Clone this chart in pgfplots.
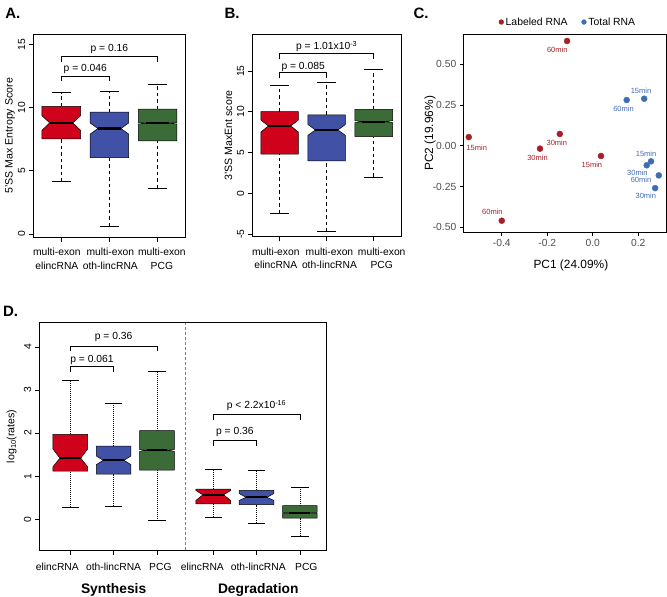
\documentclass[border=0pt]{standalone}
\usepackage{fontspec}
\setmainfont{Liberation Sans}
\usepackage{pgfplots}
\pgfplotsset{compat=1.18}

\definecolor{bred}{HTML}{D0021B}
\definecolor{bblue}{HTML}{4151A6}
\definecolor{bgreen}{HTML}{3B6B36}
\definecolor{pred}{HTML}{A61F29}
\definecolor{pblue}{HTML}{3F6DB5}
\definecolor{tgrey}{HTML}{4D4D4D}

\newcommand{\fs}[2]{\fontsize{#1}{#2}\selectfont}

\pgfplotsset{
  rbox/.style={
    scale only axis, anchor=north west, clip=false,
    axis line style={black, line width=0.6pt},
    every tick/.style={black, line width=0.6pt},
    tick align=outside, xtick pos=bottom, ytick pos=left,
    major tick length=4.5pt,
    /pgf/number format/assume math mode=true,
    ticklabel style={font=\fs{10.3}{13.5}},
    yticklabel style={rotate=90, anchor=south},
    xticklabels={,,,,,,,},
    ylabel style={font=\fs{10.6}{12}, anchor=center},
  },
  wdash/.style={black, line width=0.6pt, dash pattern=on 3.5pt off 3pt},
  wdot/.style={black, line width=0.6pt, dash pattern=on 1pt off 1pt},
  brk/.style={black, line width=0.6pt},
}
\tikzset{tl/.style={font=\fs{10.3}{13.4}, align=center, anchor=center, inner sep=0pt}}

% \nbox{x}{low whisker}{q1}{notch low}{median}{notch high}{q3}{high whisker}{colour}
\newcommand{\nbox}[9]{%
  \pgfmathsetmacro\xa{#1-0.4}\pgfmathsetmacro\xb{#1+0.4}%
  \pgfmathsetmacro\xc{#1-0.24}\pgfmathsetmacro\xd{#1+0.24}%
  \pgfmathsetmacro\xe{#1-0.2}\pgfmathsetmacro\xf{#1+0.2}%
  \addplot[wsk] coordinates {(#1,#2) (#1,#3)};
  \addplot[wsk] coordinates {(#1,#7) (#1,#8)};
  \addplot[black, line width=0.6pt] coordinates {(\xe,#2) (\xf,#2)};
  \addplot[black, line width=0.6pt] coordinates {(\xe,#8) (\xf,#8)};
  \addplot[draw=black, line width=0.5pt, fill=#9] coordinates {(\xa,#3) (\xb,#3) (\xb,#4) (\xd,#5) (\xb,#6) (\xb,#7) (\xa,#7) (\xa,#6) (\xc,#5) (\xa,#4) (\xa,#3)};
  \addplot[black, line width=2.2pt] coordinates {(\xc,#5) (\xd,#5)};
}
% \pbracket{x1}{x2}{leg y}{line y}
\newcommand{\pbracket}[4]{%
  \addplot[brk] coordinates {(#1,#3) (#1,#4) (#2,#4) (#2,#3)};
}

\begin{document}
\begin{tikzpicture}
\path[use as bounding box] (0pt,0pt) rectangle (667pt,-597pt);

% ---------------- Panel A ----------------
\begin{axis}[rbox, at={(33.3pt,-34.3pt)}, width=152.2pt, height=203pt,
  wsk/.style={wdash},
  xmin=0.42, xmax=3.58, ymin=-0.26, ymax=15.79,
  xtick={1,2,3},
  ytick={0,5,10,15},
  ylabel={5'SS Max Entropy Score},
  ylabel style={at={(axis description cs:-0.153,0.5)}},
]
\nbox{1}{4.13}{7.53}{8.20}{8.79}{9.35}{10.10}{11.18}{bred}
\nbox{2}{0.63}{6.03}{7.90}{8.34}{8.78}{9.63}{11.26}{bblue}
\nbox{3}{3.63}{7.37}{8.70}{8.76}{8.82}{9.87}{11.84}{bgreen}
\pbracket{1}{2}{12.1}{12.5}
\pbracket{1}{3}{13.6}{14.05}
\node[font=\fs{10.3}{12}] at (axis cs:1.5,13.05) {p = 0.046};
\node[font=\fs{10.3}{12}] at (axis cs:2,14.6) {p = 0.16};
\node[tl] at (axis cs:0.91,-0.26) [yshift=-21.7pt] {multi-exon\\elincRNA};
\node[tl] at (axis cs:2.02,-0.26) [yshift=-21.7pt] {multi-exon\\oth-lincRNA};
\node[tl] at (axis cs:3.09,-0.26) [yshift=-21.7pt] {multi-exon\\PCG};
\end{axis}

% ---------------- Panel B ----------------
\begin{axis}[rbox, at={(252.3pt,-34.3pt)}, width=148.7pt, height=202.4pt,
  wsk/.style={wdash},
  xmin=0.42, xmax=3.58, ymin=-5.33, ymax=19.51,
  xtick={1,2,3},
  ytick={-5,0,5,10,15},
  yticklabels={-5,0,5,10,15},
  ylabel={3'SS MaxEnt score},
  ylabel style={at={(axis description cs:-0.161,0.5)}},
]
\nbox{1}{-2.45}{4.79}{7.50}{8.26}{9.00}{10.02}{13.20}{bred}
\nbox{2}{-4.70}{3.97}{7.10}{7.77}{8.45}{9.61}{13.60}{bblue}
\nbox{3}{2.00}{6.95}{8.67}{8.79}{8.91}{10.30}{15.26}{bgreen}
\pbracket{1}{2}{14.1}{14.8}
\pbracket{1}{3}{16.44}{17.18}
\node[font=\fs{10.3}{12}] at (axis cs:1.5,15.55) {p = 0.085};
\node[font=\fs{10.3}{12}] at (axis cs:2,18.0) {p = 1.01x10\textsuperscript{-3}};
\node[tl] at (axis cs:0.92,-5.33) [yshift=-21.7pt] {multi-exon\\elincRNA};
\node[tl] at (axis cs:2.06,-5.33) [yshift=-21.7pt] {multi-exon\\oth-lincRNA};
\node[tl] at (axis cs:3.17,-5.33) [yshift=-21.7pt] {multi-exon\\PCG};
\end{axis}

% ---------------- Panel C ----------------
\begin{axis}[scale only axis, anchor=north west, at={(463.3pt,-34.3pt)},
  width=203pt, height=198pt, clip=false,
  xmin=-0.569, xmax=0.323, ymin=-0.531, ymax=0.683,
  axis line style={black, line width=0.7pt},
  every tick/.style={black, line width=0.6pt},
  tick align=outside, xtick pos=bottom, ytick pos=left, major tick length=3.5pt,
  xtick={-0.4,-0.2,0,0.2}, xticklabels={-0.4,-0.2,0.0,0.2},
  ytick={-0.5,-0.25,0,0.25,0.5}, yticklabels={-0.50,-0.25,0.00,0.25,0.50},
  ticklabel style={font=\fs{10.3}{12}, text=tgrey},
  xlabel={PC1 (24.09\%)}, ylabel={PC2 (19.96\%)},
  label style={font=\fs{11.9}{14}},
  xlabel style={at={(axis description cs:0.53,-0.169)}, anchor=center},
  ylabel style={at={(axis description cs:-0.164,0.5)}, anchor=center},
  legend style={at={(axis description cs:0.516,1.062)}, anchor=center,
    draw=none, fill=none, legend columns=2, font=\fs{10.4}{12},
    /tikz/every even column/.append style={column sep=12pt}},
  legend image post style={mark size=2.4pt},
]
\addplot[only marks, mark=*, mark size=3pt, color=pred] coordinates {
  (-0.113,0.642) (-0.545,0.053) (-0.145,0.072) (-0.232,-0.018) (0.036,-0.063) (-0.400,-0.460)};
\addplot[only marks, mark=*, mark size=3pt, color=pblue] coordinates {
  (0.149,0.280) (0.226,0.288) (0.256,-0.096) (0.237,-0.120) (0.290,-0.182) (0.274,-0.260)};
\legend{Labeled RNA, Total RNA}
\node[text=pred, font=\fs{7.5}{9}] at (axis cs:-0.156,0.587) {60min};
\node[text=pred, font=\fs{7.5}{9}] at (axis cs:-0.510,-0.012) {15min};
\node[text=pred, font=\fs{7.5}{9}] at (axis cs:-0.158,0.017) {30min};
\node[text=pred, font=\fs{7.5}{9}] at (axis cs:-0.243,-0.075) {30min};
\node[text=pred, font=\fs{7.5}{9}] at (axis cs:-0.004,-0.117) {15min};
\node[text=pred, font=\fs{7.5}{9}] at (axis cs:-0.441,-0.405) {60min};
\node[text=pblue, font=\fs{7.5}{9}] at (axis cs:0.135,0.225) {60min};
\node[text=pblue, font=\fs{7.5}{9}] at (axis cs:0.212,0.336) {15min};
\node[text=pblue, font=\fs{7.5}{9}] at (axis cs:0.234,-0.049) {15min};
\node[text=pblue, font=\fs{7.5}{9}] at (axis cs:0.196,-0.166) {30min};
\node[text=pblue, font=\fs{7.5}{9}] at (axis cs:0.212,-0.210) {60min};
\node[text=pblue, font=\fs{7.5}{9}] at (axis cs:0.233,-0.307) {30min};
\end{axis}

% ---------------- Panel D ----------------
\begin{axis}[rbox, at={(39.3pt,-322.7pt)}, width=287.4pt, height=227.3pt,
  wsk/.style={wdot},
  xmin=0.284, xmax=6.92, ymin=-0.71, ymax=4.56,
  xtick={1,2,3,4.3,5.3,6.3},
  ytick={0,1,2,3,4},
  ylabel={log\textsubscript{10}(rates)},
  ylabel style={at={(axis description cs:-0.096,0.5)}},
]
\addplot[gray, line width=0.7pt, dash pattern=on 3pt off 2pt] coordinates {(3.65,-0.71) (3.65,4.56)};
\nbox{1}{0.29}{1.12}{1.22}{1.42}{1.63}{1.97}{3.23}{bred}
\nbox{2}{0.30}{1.05}{1.27}{1.37}{1.47}{1.70}{2.69}{bblue}
\nbox{3}{-0.03}{1.14}{1.58}{1.60}{1.62}{2.06}{3.44}{bgreen}
\nbox{4.3}{0.06}{0.36}{0.44}{0.57}{0.67}{0.70}{1.17}{bred}
\nbox{5.3}{-0.08}{0.34}{0.44}{0.51}{0.60}{0.67}{1.14}{bblue}
\nbox{6.3}{-0.39}{0.03}{0.14}{0.15}{0.16}{0.32}{0.75}{bgreen}
\pbracket{1}{2}{3.42}{3.55}
\pbracket{1}{3}{3.90}{4.02}
\pbracket{4.3}{5.3}{1.70}{1.83}
\pbracket{4.3}{6.3}{2.30}{2.43}
\node[font=\fs{10.3}{12}] at (axis cs:1.5,3.70) {p = 0.061};
\node[font=\fs{10.3}{12}] at (axis cs:2,4.22) {p = 0.36};
\node[font=\fs{10.3}{12}] at (axis cs:4.8,2.03) {p = 0.36};
\node[font=\fs{10.3}{12}] at (axis cs:5.3,2.64) {p < 2.2x10\textsuperscript{-16}};
\node[tl] at (axis cs:0.70,-0.71) [yshift=-16.7pt] {elincRNA};
\node[tl] at (axis cs:2.00,-0.71) [yshift=-16.7pt] {oth-lincRNA};
\node[tl] at (axis cs:3.08,-0.71) [yshift=-16.7pt] {PCG};
\node[tl] at (axis cs:4.05,-0.71) [yshift=-16.7pt] {elincRNA};
\node[tl] at (axis cs:5.34,-0.71) [yshift=-16.7pt] {oth-lincRNA};
\node[tl] at (axis cs:6.45,-0.71) [yshift=-16.7pt] {PCG};
\node[font=\bfseries\fs{13.8}{16}] at (axis cs:2,-0.71) [yshift=-40pt] {Synthesis};
\node[font=\bfseries\fs{13.8}{16}] at (axis cs:5.34,-0.71) [yshift=-40pt] {Degradation};
\end{axis}

% panel letters
\node[font=\bfseries\fs{15}{18}] at (12.8pt,-13.7pt) {A.};
\node[font=\bfseries\fs{15}{18}] at (232pt,-13.7pt) {B.};
\node[font=\bfseries\fs{15}{18}] at (421pt,-13.7pt) {C.};
\node[font=\bfseries\fs{15}{18}] at (10.5pt,-311.7pt) {D.};
\end{tikzpicture}
\end{document}
